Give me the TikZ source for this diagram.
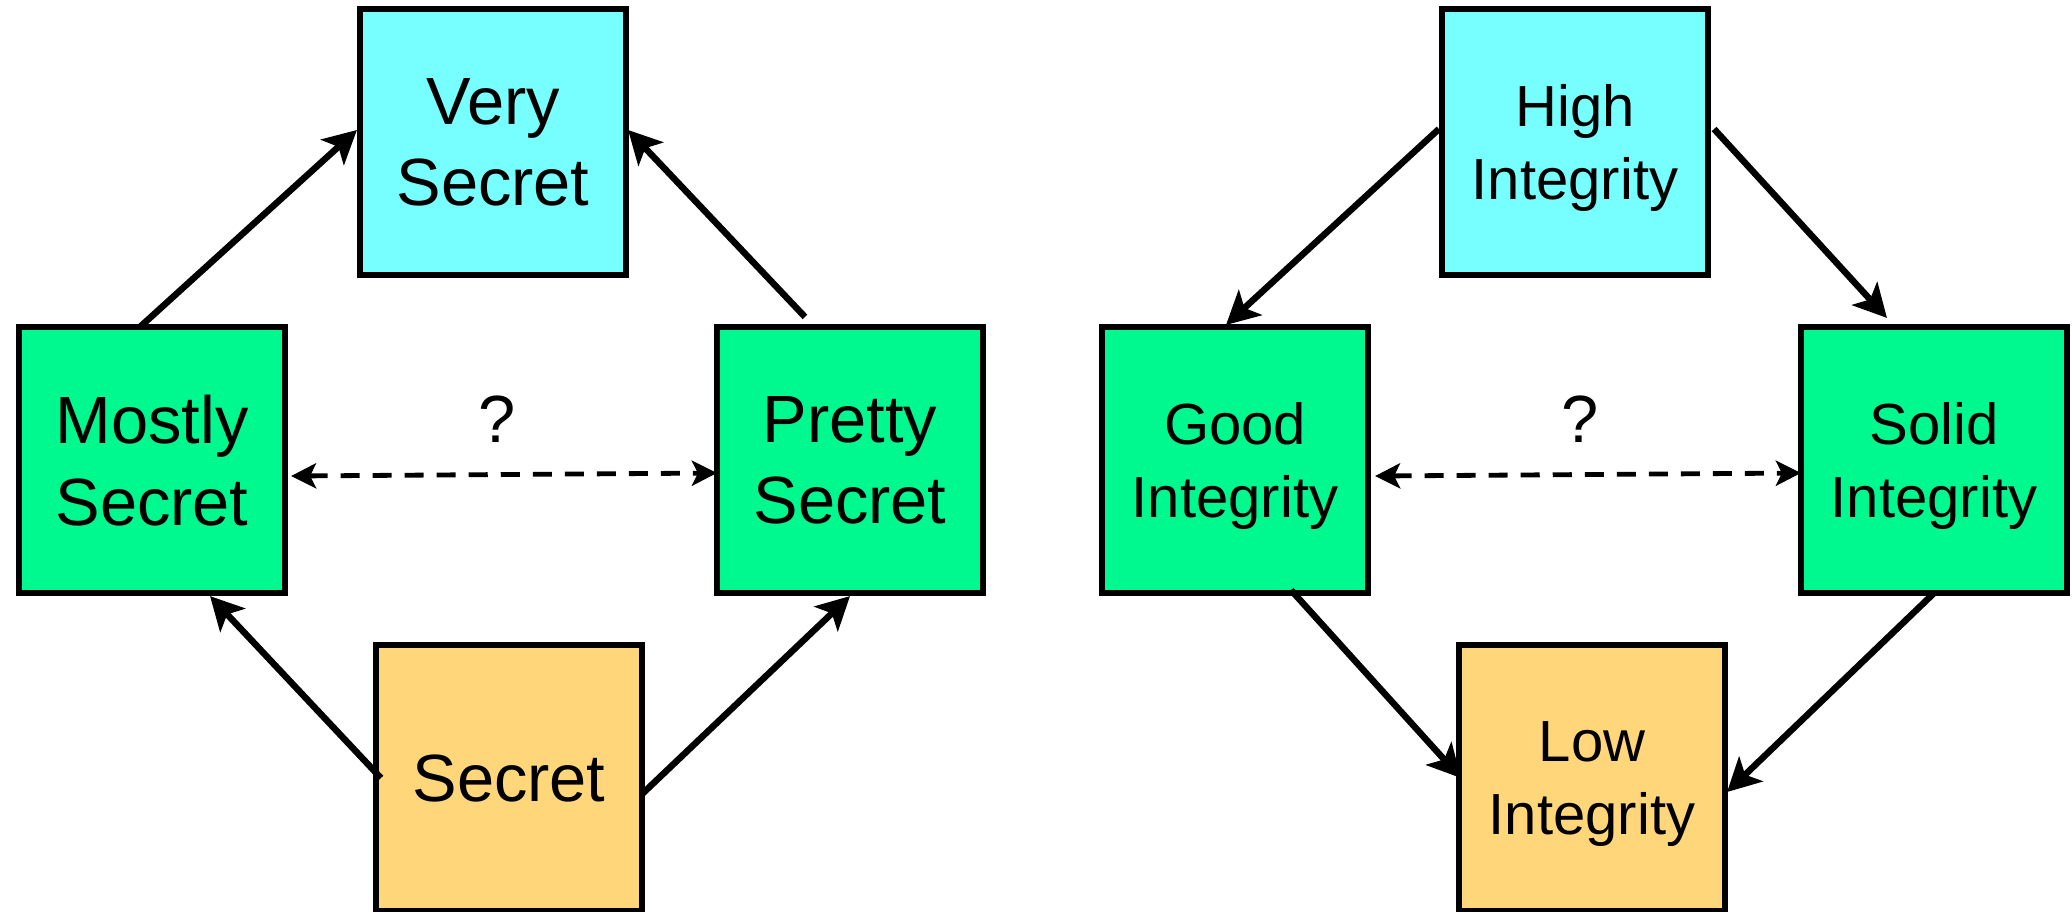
\documentclass[tikz,border=0pt]{standalone}
\usepackage{fontspec}
\setmainfont{Liberation Sans}
\usetikzlibrary{arrows.meta,calc}

\definecolor{topcyan}{HTML}{77FFFF}
\definecolor{midgreen}{HTML}{00F98F}
\definecolor{lowgold}{HTML}{FFD67A}

\begin{document}
\begin{tikzpicture}[x=0.01cm,y=-0.01cm,
  latbox/.style={draw=black, line width=0.055cm, minimum width=2.66cm,
    minimum height=2.66cm, inner sep=0pt, outer sep=0pt, align=center,
    text depth=0pt},
  bigtext/.style={font=\fontsize{19}{23.2}\selectfont},
  smalltext/.style={font=\fontsize{16.5}{20.5}\selectfont},
  flow/.style={line width=0.065cm,
    -{Stealth[length=0.33cm,width=0.34cm,inset=0.08cm]}},
  maybe/.style={line width=0.048cm, dash pattern=on 0.19cm off 0.13cm,
    {Stealth[length=0.25cm,width=0.25cm,inset=0.06cm]}-{Stealth[length=0.25cm,width=0.25cm,inset=0.06cm]}},
]
\useasboundingbox (0,0) rectangle (2072,911);

% secrecy lattice
\node[latbox, fill=topcyan, bigtext] (vs) at (493,142) {Very\\Secret};
\node[latbox, fill=midgreen, bigtext] (ms) at (152,460) {Mostly\\Secret};
\node[latbox, fill=midgreen, bigtext] (ps) at (850,460) {Pretty\\Secret};
\node[latbox, fill=lowgold, bigtext] (sc) at (509,778) {Secret};
\node[bigtext] (q1) at (497,419) {?};

\draw[flow] ([xshift=-0.12cm]ms.north) -- ([xshift=-0.03cm,yshift=0.12cm]vs.west);
\draw[flow] ([xshift=-0.45cm,yshift=0.10cm]ps.north) -- ([xshift=0.02cm,yshift=0.12cm]vs.east);
\draw[flow] ([xshift=0.05cm]sc.west) -- ([xshift=0.58cm,yshift=-0.03cm]ms.south);
\draw[flow] ([yshift=-0.16cm]sc.east) -- ([yshift=-0.03cm]ps.south);
\draw[maybe] ([xshift=0.06cm,yshift=-0.16cm]ms.east) -- ([yshift=-0.13cm]ps.west);

% integrity lattice
\node[latbox, fill=topcyan, smalltext] (hi) at (1575,142) {High\\Integrity};
\node[latbox, fill=midgreen, smalltext] (gi) at (1235,460) {Good\\Integrity};
\node[latbox, fill=midgreen, smalltext] (si) at (1934,460) {Solid\\Integrity};
\node[latbox, fill=lowgold, smalltext] (li) at (1592,778) {Low\\Integrity};
\node[bigtext] (q2) at (1580,419) {?};

\draw[flow] ([xshift=-0.03cm,yshift=0.13cm]hi.west) -- ([xshift=-0.09cm,yshift=0.02cm]gi.north);
\draw[flow] ([xshift=0.06cm,yshift=0.13cm]hi.east) -- ([xshift=-0.47cm,yshift=0.09cm]si.north);
\draw[flow] ([xshift=0.56cm,yshift=0.03cm]gi.south) -- ([xshift=0.02cm]li.west);
\draw[flow] (si.south) -- ([xshift=0.02cm,yshift=-0.14cm]li.east);
\draw[maybe] ([xshift=0.07cm,yshift=-0.16cm]gi.east) -- ([yshift=-0.13cm]si.west);
\end{tikzpicture}
\end{document}
